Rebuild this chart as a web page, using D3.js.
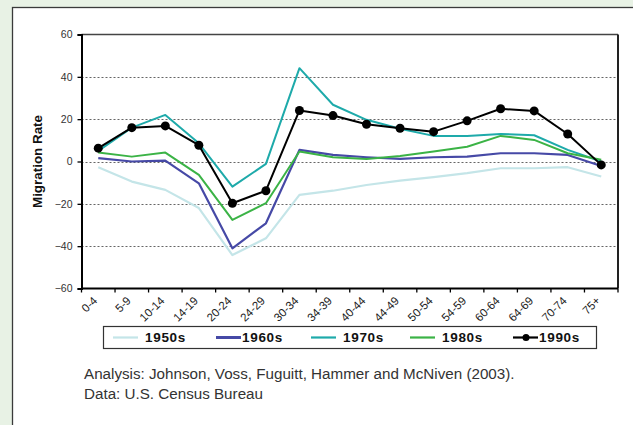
<!DOCTYPE html>
<html>
<head>
<meta charset="utf-8">
<script src="https://cdn.jsdelivr.net/npm/d3@7.9.0/dist/d3.min.js"></script>
<style>
  body { margin: 0; background: #e8f2e5; }
  svg { display: block; font-family: "Liberation Sans", Arial, sans-serif; }
</style>
</head>
<body>
<svg width="633" height="425"></svg>
<script>
const ageGroups = ['0-4', '5-9', '10-14', '14-19', '20-24', '24-29', '30-34', '34-39',
    '40-44', '44-49', '50-54', '54-59', '60-64', '64-69', '70-74', '75+'];

const rates1950s = [-2.7, -9.5, -13.4, -22, -44.2, -36.3, -15.8, -13.8, -11.1, -9.0, -7.4, -5.5, -3.2, -3.2, -2.7, -7.1];
const rates1960s = [1.6, 0, 0.4, -10.3, -41, -29.2, 5.5, 3.1, 2.0, 1.2, 2.0, 2.3, 3.9, 3.9, 3.1, -2.1];
const rates1970s = [5, 16, 22, 8.6, -11.9, -1.1, 44.1, 26.8, 19.7, 15.5, 12.1, 12.1, 13.0, 12.4, 5.5, 0];
const rates1980s = [4.2, 2.3, 4.2, -6.3, -27.6, -19.7, 4.7, 2.0, 1.2, 2.6, 4.7, 7.0, 12.1, 10.2, 3.9, 0.8];
const rates1990s = [6.3, 16.0, 16.8, 7.7, -19.7, -13.8, 24.1, 21.7, 17.6, 15.7, 14.1, 19.2, 24.9, 23.9, 13.0, -1.6];

const yTicks = [-60, -40, -20, 0, 20, 40, 60];

const series = [
    { name: '1950s', values: rates1950s, color: '#c4e5e8', width: 2.2 },
    { name: '1960s', values: rates1960s, color: '#4649a6', width: 2.2 },
    { name: '1970s', values: rates1970s, color: '#1eaaaa', width: 2 },
    { name: '1980s', values: rates1980s, color: '#3bb346', width: 2 },
    { name: '1990s', values: rates1990s, color: '#000000', width: 2, dots: true }
];

const svg = d3.select('svg');

// white panel
svg.append('rect')
    .attr('x', 12.5).attr('y', 7.5)
    .attr('width', 640).attr('height', 430)
    .attr('fill', '#fff')
    .attr('stroke', '#3a3a3a')
    .attr('stroke-width', 1.3);

const plot = { left: 81.5, right: 618, top: 34.5, bottom: 288.5 };

const x = d3.scaleBand()
    .domain(ageGroups)
    .range([plot.left, plot.right])
    .padding(0);

const y = d3.scaleLinear()
    .domain([-60, 60])
    .range([plot.bottom, plot.top]);

const cx = d => x(d) + x.bandwidth() / 2;

// gridlines
svg.append('g')
    .selectAll('line')
    .data(yTicks.filter(t => t > -60 && t < 60))
    .join('line')
    .attr('x1', plot.left).attr('x2', plot.right)
    .attr('y1', d => Math.round(y(d)) + 0.5).attr('y2', d => Math.round(y(d)) + 0.5)
    .attr('stroke', '#666')
    .attr('stroke-width', 1.2)
    .attr('stroke-dasharray', '2,2');

// plot border top/right
svg.append('line')
    .attr('x1', plot.left).attr('x2', plot.right)
    .attr('y1', plot.top).attr('y2', plot.top)
    .attr('stroke', '#444').attr('stroke-width', 1.5);
svg.append('line')
    .attr('x1', plot.right).attr('x2', plot.right)
    .attr('y1', plot.top).attr('y2', plot.bottom)
    .attr('stroke', '#222').attr('stroke-width', 2);

// y axis
const yAxis = svg.append('g')
    .attr('transform', `translate(${plot.left},0)`)
    .call(d3.axisLeft(y).tickValues(yTicks).tickSize(4).tickPadding(5));
yAxis.select('.domain').attr('stroke', '#000').attr('stroke-width', 2);
yAxis.selectAll('.tick line').attr('stroke', '#000').attr('stroke-width', 1.3);
yAxis.selectAll('text')
    .attr('font-size', 10.5)
    .attr('fill', '#333')
    .attr('font-family', '"Liberation Sans", Arial, sans-serif');

// x axis
svg.append('line')
    .attr('x1', plot.left).attr('x2', plot.right)
    .attr('y1', plot.bottom).attr('y2', plot.bottom)
    .attr('stroke', '#000').attr('stroke-width', 2);

const boundaries = ageGroups.map(d => x(d)).concat([plot.right]);
svg.append('g')
    .selectAll('line')
    .data(boundaries)
    .join('line')
    .attr('x1', d => d).attr('x2', d => d)
    .attr('y1', plot.bottom).attr('y2', plot.bottom + 4)
    .attr('stroke', '#000').attr('stroke-width', 1.3);

svg.append('g')
    .selectAll('text')
    .data(ageGroups)
    .join('text')
    .attr('transform', d => `translate(${cx(d) - 3},${plot.bottom + 10}) rotate(-45)`)
    .attr('text-anchor', 'end')
    .attr('dy', '0.35em')
    .attr('font-size', 11.5)
    .attr('fill', '#222')
    .text(d => d);

// y axis title
svg.append('text')
    .attr('transform', `translate(42,${(plot.top + plot.bottom) / 2}) rotate(-90)`)
    .attr('text-anchor', 'middle')
    .attr('font-size', 13.4)
    .attr('font-weight', 'bold')
    .attr('fill', '#111')
    .text('Migration Rate');

// lines
const line = d3.line()
    .x((d, i) => cx(ageGroups[i]))
    .y(d => y(d));

series.forEach(s => {
    svg.append('path')
        .datum(s.values)
        .attr('d', line)
        .attr('fill', 'none')
        .attr('stroke', s.color)
        .attr('stroke-width', s.width)
        .attr('stroke-linejoin', 'round');
    if (s.dots) {
        svg.append('g')
            .selectAll('circle')
            .data(s.values)
            .join('circle')
            .attr('cx', (d, i) => cx(ageGroups[i]))
            .attr('cy', d => y(d))
            .attr('r', 4.5)
            .attr('fill', s.color);
    }
});

// legend
const legend = svg.append('g');
legend.append('rect')
    .attr('x', 103.5).attr('y', 326.5)
    .attr('width', 493).attr('height', 22)
    .attr('fill', '#fff')
    .attr('stroke', '#333')
    .attr('stroke-width', 1.2);

const legendX = [113, 216, 311, 410, 513];
series.forEach((s, i) => {
    const lx = legendX[i];
    const ly = 337.5;
    legend.append('line')
        .attr('x1', lx).attr('x2', lx + 25)
        .attr('y1', ly).attr('y2', ly)
        .attr('stroke', s.color)
        .attr('stroke-width', i === 1 ? 3 : 2.2);
    if (s.dots) {
        legend.append('circle')
            .attr('cx', lx + 13).attr('cy', ly).attr('r', 3.5).attr('fill', s.color);
    }
    legend.append('text')
        .attr('x', i === 1 || i === 4 ? lx + 26 : lx + 32)
        .attr('y', ly)
        .attr('dy', '0.36em')
        .attr('font-size', 13.5)
        .attr('font-weight', 'bold')
        .attr('letter-spacing', 0.7)
        .attr('fill', '#111')
        .text(s.name);
});

// caption
const caption = [
    'Analysis: Johnson, Voss, Fuguitt, Hammer and McNiven (2003).',
    'Data: U.S. Census Bureau'
];
svg.append('g')
    .selectAll('text')
    .data(caption)
    .join('text')
    .attr('x', 84)
    .attr('y', (d, i) => 379 + i * 20)
    .attr('font-size', 15.2)
    .attr('fill', '#333')
    .text(d => d);
</script>
</body>
</html>
